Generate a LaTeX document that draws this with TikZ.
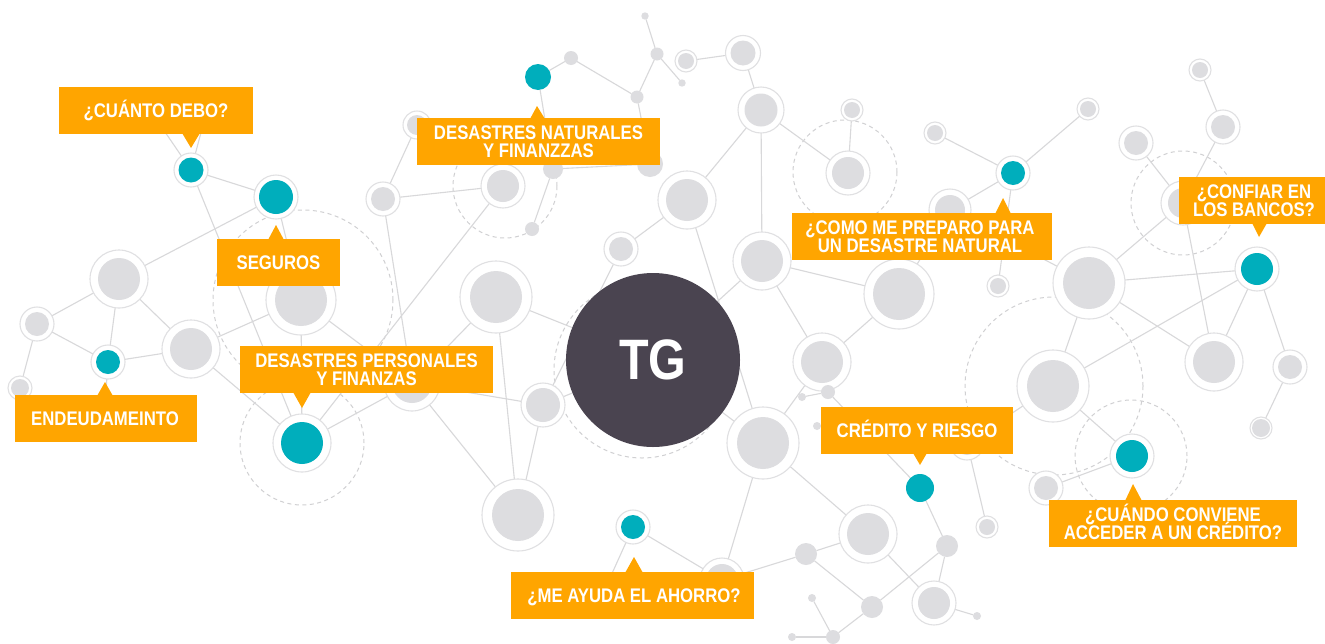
\documentclass[tikz,border=0pt]{standalone}
\usepackage{fontspec}
\setmainfont[FakeStretch=0.85]{Liberation Sans}
\definecolor{orangec}{RGB}{255,165,0}
\definecolor{tealc}{RGB}{0,174,188}
\definecolor{darkc}{RGB}{74,68,80}
\definecolor{grayc}{RGB}{221,221,224}
\definecolor{ringc}{RGB}{224,224,226}
\definecolor{edgec}{RGB}{216,216,218}
\definecolor{dashc}{RGB}{208,208,210}
\pgfdeclarelayer{bg}
\pgfsetlayers{bg,main}
\tikzset{
  dotnode/.style={circle, inner sep=0pt, outer sep=0pt},
  ringpath/.style={fill=white, draw=ringc, line width=1.1pt},
  link/.style={draw=edgec, line width=1.1pt},
  dcircle/.style={draw=dashc, line width=1pt, dash pattern=on 4pt off 3.5pt},
  obox/.style={fill=orangec, inner sep=0pt, outer sep=0pt, rectangle, anchor=north west},
  otext/.style={text=white, font=\fontsize{19.7}{17.3}\selectfont\bfseries, inner sep=0pt, anchor=base},
}
\newcommand\ringed[6]{\path[ringpath] (#2,#3) circle (#5pt);
  \node[dotnode, fill=#6, minimum size={#4*2pt}] (#1) at (#2,#3) {};}
\newcommand\plain[5]{\node[dotnode, fill=#5, minimum size={#4*2pt}] (#1) at (#2,#3) {};}
\newcommand\bx[5]{\node[obox, minimum width={(#4-#2)*1pt}, minimum height={(#5-#3)*1pt}] (#1) at (#2,#3) {};}
\begin{document}
\begin{tikzpicture}[x=1pt,y=-1pt]
\useasboundingbox (0,0) rectangle (1325,643);
\begin{pgfonlayer}{bg}
\fill[white] (0,0) rectangle (1325,643);
\draw[dcircle] (303,300) circle (90pt);
\draw[dcircle] (302,443) circle (62pt);
\draw[dcircle] (505,186) circle (52pt);
\draw[dcircle] (845,172) circle (52pt);
\draw[dcircle] (642,370) circle (88pt);
\draw[dcircle] (1183,203) circle (52pt);
\draw[dcircle] (1054,386) circle (89pt);
\draw[dcircle] (1131,456) circle (56pt);
\end{pgfonlayer}

% left
\ringed{n1}{191}{170}{12.5}{17}{tealc}
\ringed{n2}{276}{197}{17}{22}{tealc}
\ringed{g1}{119}{279}{21}{29}{grayc}
\ringed{g2}{37}{324}{12}{17}{grayc}
\ringed{n3}{108}{362}{12}{17}{tealc}
\ringed{g3}{191}{349}{21}{29}{grayc}
\ringed{g4}{301}{300}{26}{35}{grayc}
\ringed{g5}{20}{388}{9}{12}{grayc}
\ringed{g6}{383}{199}{12}{17}{grayc}
\ringed{g7}{412}{383}{20}{28}{grayc}
\ringed{n4}{302}{443}{21}{29}{tealc}
\ringed{g8}{417}{125}{10}{14}{grayc}
\ringed{g9}{503}{186}{16}{22}{grayc}
% center
\ringed{g10}{496}{297}{26}{36}{grayc}
\ringed{g11}{543}{405}{17}{22}{grayc}
\ringed{g12}{518}{515}{26}{36}{grayc}
\ringed{g13}{621}{249}{12}{17}{grayc}
\ringed{g14}{687}{200}{21}{29}{grayc}
\ringed{g15}{761}{110}{16.5}{23}{grayc}
\ringed{g16}{762}{261}{21}{29}{grayc}
\ringed{g17}{743}{53}{12.5}{17.5}{grayc}
\ringed{g18}{686}{61}{8}{11}{grayc}
\plain{p1}{657}{54}{6.5}{grayc}
\plain{p2}{645}{16}{3.7}{grayc}
\plain{p3}{682}{83}{3.7}{grayc}
\plain{p4}{637}{97}{6.5}{grayc}
\plain{p5}{571}{58}{7}{grayc}
\plain{t5}{538}{77}{13}{tealc}
\plain{p6}{553}{169}{10}{grayc}
\plain{p7}{650}{164}{13}{grayc}
\plain{p8}{532}{229}{7}{grayc}
\ringed{g19}{848}{173}{16}{22}{grayc}
\ringed{g20}{852}{110}{8}{11}{grayc}
\ringed{g21}{899}{294}{26}{35}{grayc}
\ringed{g22}{822}{362}{21}{29}{grayc}
\ringed{g23}{763}{443}{26}{36}{grayc}
\plain{p9}{828}{392}{7}{grayc}
\plain{p10}{802}{397}{4}{grayc}
\plain{p11}{817}{426}{4}{grayc}
% right
\ringed{n5}{1013}{173}{12}{17}{tealc}
\ringed{g24}{1088}{109}{8}{11}{grayc}
\ringed{g25}{935}{133}{8}{11}{grayc}
\ringed{g26}{950}{210}{15}{21}{grayc}
\ringed{g27}{998}{286}{8}{11}{grayc}
\ringed{g28}{1089}{283}{26}{36}{grayc}
\ringed{g29}{1136}{143}{12}{17}{grayc}
\ringed{g30}{1200}{70}{8}{11}{grayc}
\ringed{g31}{1223}{127}{12}{17}{grayc}
\ringed{g32}{1183}{203}{15}{22}{grayc}
\ringed{n6}{1257}{269}{16}{22}{tealc}
\ringed{g33}{1053}{386}{26}{36}{grayc}
\ringed{g34}{1214}{362}{21}{29}{grayc}
\ringed{g35}{1290}{367}{12}{17}{grayc}
\ringed{g36}{1261}{428}{9}{11}{grayc}
\ringed{n7}{1132}{456}{16}{22}{tealc}
\ringed{g37}{1046}{488}{12}{17}{grayc}
\ringed{g38}{967}{443}{12}{17}{grayc}
\ringed{g39}{987}{527}{8}{11}{grayc}
\plain{n8}{920}{488}{14}{tealc}
\plain{p12}{947}{546}{11}{grayc}
\ringed{g40}{934}{603}{16}{22}{grayc}
\plain{p13}{872}{607}{11}{grayc}
\plain{p14}{977}{616}{4}{grayc}
\ringed{g41}{868}{534}{21}{29}{grayc}
\plain{p15}{806}{554}{11}{grayc}
\ringed{g42}{722}{580}{16}{22}{grayc}
\plain{p16}{833}{637}{7}{grayc}
\plain{p17}{812}{598}{4}{grayc}
\plain{p18}{792}{637}{4}{grayc}
\ringed{n9}{633}{527}{12}{17}{tealc}
\node[dotnode, fill=darkc, minimum size=174pt, text=white,
  font=\fontsize{57}{57}\selectfont\bfseries] (tg) at (653,360) {TG};

\coordinate (c1) at (150,110);
\coordinate (c2) at (207,110);
\coordinate (c3) at (104,420);
\coordinate (c4) at (600,600);

\begin{pgfonlayer}{bg}
\foreach \a/\b in {n1/n2,n1/n4,n1/c1,n1/c2,n2/g1,n2/g4,g1/g2,g1/n3,g1/g3,g2/n3,g2/g5,
  n3/g3,n3/c3,g3/g4,g3/n4,g4/n4,g4/g7,g6/g8,g6/g9,g6/g7,n4/g9,n4/g7,g7/g12,g7/g11,
  g10/g7,g10/tg,g10/g12,g11/g12,g11/tg,g13/g11,g14/g13,g14/g15,g14/g23,
  g15/g16,g15/g19,g15/g17,g17/g18,t5/p5,t5/p6,p5/p4,p4/p1,p1/p2,p1/p3,p4/p7,p6/p8,p6/p7,
  g20/g19,g16/tg,g16/g21,g16/g22,g21/g22,g21/g26,g22/g23,g22/p9,p9/p10,p9/n8,
  g23/tg,g23/g41,g23/g42,n5/g24,n5/g25,n5/g26,n5/g27,g26/g28,
  g28/g32,g28/n6,g28/g33,g28/g34,g29/g32,g30/g31,g31/g32,g32/g34,
  n6/g33,n6/g34,n6/g35,g35/g36,g33/n7,g33/g38,n7/g37,g38/g39,
  n8/p12,p12/g40,p12/p13,g40/p14,g40/g41,g41/p15,p15/p13,p15/g42,
  p13/p16,p16/p17,p16/p18,n9/g42,n9/c4}
  {\draw[link] (\a) -- (\b);}
\end{pgfonlayer}

% boxes
\bx{b1}{59}{87}{253}{134}
\fill[orangec] (182,133) -- (200,133) -- (191,148) -- cycle;
\node[otext] (t1) at (156,117) {¿CUÁNTO DEBO?};

\bx{b2}{217}{239}{340}{286}
\fill[orangec] (268,240) -- (284,240) -- (276,225) -- cycle;
\node[otext] (t2) at (278.5,269.5) {SEGUROS};

\bx{b3}{15}{395}{197}{442}
\fill[orangec] (97,396) -- (113,396) -- (105,382) -- cycle;
\node[otext] (t3) at (105,425.5) {ENDEUDAMEINTO};

\bx{b4}{240}{346}{493}{393}
\fill[orangec] (293,392) -- (311,392) -- (302,408) -- cycle;
\node[otext] (t4a) at (366.5,367.85) {DESASTRES PERSONALES};
\node[otext] (t4b) at (366.5,385.15) {Y FINANZAS};

\bx{b5}{417}{118}{660}{165}
\fill[orangec] (530,119) -- (545,119) -- (537,106) -- cycle;
\node[otext] (t5a) at (538.5,139.85) {DESASTRES NATURALES};
\node[otext] (t5b) at (538.5,157.15) {Y FINANZZAS};

\bx{b6}{792}{213}{1052}{260}
\fill[orangec] (995,214) -- (1011,214) -- (1003,198) -- cycle;
\node[otext] (t6a) at (920,234.85) {¿COMO ME PREPARO PARA};
\node[otext] (t6b) at (920,252.15) {UN DESASTRE NATURAL};

\bx{b7}{1179}{177}{1325}{224}
\fill[orangec] (1252,223) -- (1267,223) -- (1259,237) -- cycle;
\node[otext] (t7a) at (1254,198.85) {¿CONFIAR EN};
\node[otext] (t7b) at (1254,216.15) {LOS BANCOS?};

\bx{b8}{821}{407}{1013}{454}
\fill[orangec] (913,453) -- (927,453) -- (920,465) -- cycle;
\node[otext] (t8) at (917,437.5) {CRÉDITO Y RIESGO};

\bx{b9}{1049}{500}{1297}{547}
\fill[orangec] (1125,501) -- (1142,501) -- (1133,484) -- cycle;
\node[otext] (t9a) at (1173,521.85) {¿CUÁNDO CONVIENE};
\node[otext] (t9b) at (1173,539.15) {ACCEDER A UN CRÉDITO?};

\bx{b10}{511}{572}{754}{619}
\fill[orangec] (625,573) -- (643,573) -- (634,557) -- cycle;
\node[otext] (t10) at (634,602.5) {¿ME AYUDA EL AHORRO?};
\end{tikzpicture}
\end{document}
